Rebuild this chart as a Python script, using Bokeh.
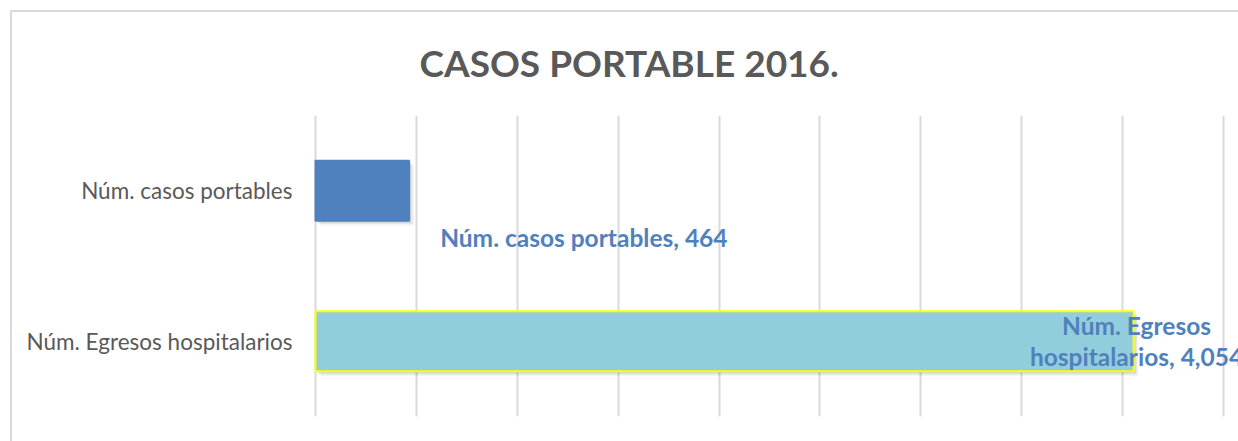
from bokeh.plotting import figure
from bokeh.models import (FactorRange, Range1d, SingleIntervalTicker,
                          ColumnDataSource)
from bokeh.transform import dodge
from bokeh.core.properties import value
from bokeh.embed import file_html
from bokeh.resources import INLINE

# ---- data ----
categories = ["Núm. Egresos hospitalarios", "Núm. casos portables"]
counts = [4054, 464]
bar_colors = ["#92CDDC", "#4F81BD"]
border_colors = ["#FFFF00", "#4F81BD"]
title_text = "CASOS  PORTABLE 2016."
x_min = -10
x_max = 4574
grid_step = 500

FONT = "Lato"
GRAY = "#595959"
BLUE = "#4F81BD"
BORDER = "#D9D9D9"
PX = 1 / 0.20178          # data units per pixel along x
BAR_H = 0.4

p = figure(width=1238, height=441, output_backend="svg", toolbar_location=None,
           y_range=FactorRange(factors=categories, range_padding=0),
           x_range=Range1d(x_min, x_max),
           min_border_left=313, min_border_right=0, min_border_top=115,
           min_border_bottom=25)
p.background_fill_color = "white"
p.border_fill_color = None
p.outline_line_color = None
p.styles = {
    "background": (f"linear-gradient({BORDER},{BORDER}) 10px 10px / 2px 100% no-repeat, "
                   f"linear-gradient({BORDER},{BORDER}) 10px 10px / 100% 2px no-repeat, "
                   "white"),
}

# soft shadows behind bars
for k, a in [(5, 0.04), (3.5, 0.06), (2, 0.08)]:
    sh = ColumnDataSource(dict(cat=categories, r=[c + k * PX for c in counts]))
    p.hbar(y=dodge("cat", -k / 150.5, range=p.y_range), right="r", left=k * PX,
           height=BAR_H, source=sh, fill_color="black", fill_alpha=a, line_color=None)

src = ColumnDataSource(dict(cat=categories, n=counts, fill=bar_colors,
                            line=border_colors))
p.hbar(y="cat", right="n", left=0, height=BAR_H, source=src,
       fill_color="fill", line_color="line", line_width=2)

# data labels
lab1 = ColumnDataSource(dict(x=[counts[1]], y=[categories[1]],
                             t=[f"{categories[1]}, {counts[1]:,}"]))
p.text(x="x", y="y", text="t", source=lab1, x_offset=31, y_offset=47,
       text_align="left", text_baseline="middle", text_color=BLUE,
       text_font=value(FONT), text_font_style="bold", text_font_size="24.5px")

w = categories[0].split(" ")
lab2 = ColumnDataSource(dict(x=[counts[0]], y=[categories[0]],
                             t=[" ".join(w[:2]) + "\n" + w[2] + f", {counts[0]:,}"]))
p.text(x="x", y="y", text="t", source=lab2, x_offset=3, y_offset=0,
       text_align="center", text_baseline="middle", text_color=BLUE,
       text_font=value(FONT), text_font_style="bold", text_font_size="24.5px",
       text_line_height=1.08)

# axes & grid
p.xaxis.visible = False
p.xgrid.ticker = SingleIntervalTicker(interval=grid_step)
p.xgrid.grid_line_color = BORDER
p.xgrid.grid_line_width = 2
p.ygrid.grid_line_color = None
p.yaxis.axis_line_color = None
p.yaxis.major_tick_line_color = None
p.yaxis.minor_tick_line_color = None
p.yaxis.major_tick_out = 0
p.yaxis.major_label_standoff = 21
p.yaxis.major_label_text_font = FONT
p.yaxis.major_label_text_font_size = "22.5px"
p.yaxis.major_label_text_color = GRAY

# title
p.title.text = title_text
p.title.align = "left"
p.title.offset = 106
p.title.standoff = 62
p.title.text_font = FONT
p.title.text_font_style = "bold"
p.title.text_font_size = "37px"
p.title.text_color = GRAY

open("out.html", "w").write(file_html(p, INLINE))
